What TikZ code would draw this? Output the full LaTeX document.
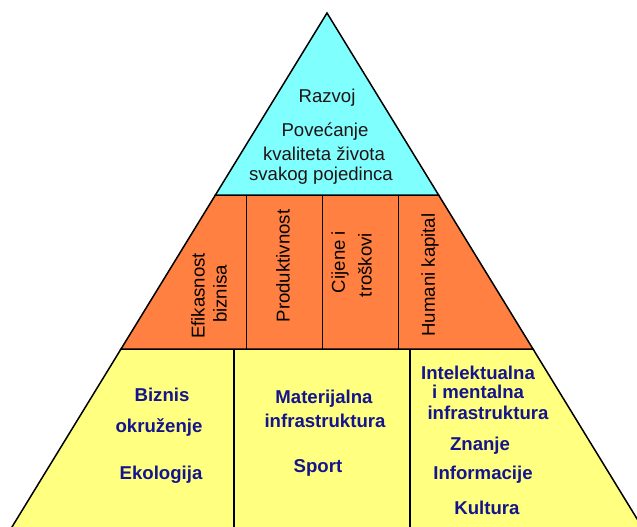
\documentclass[tikz,border=0pt]{standalone}
\usepackage{fontspec}
\setmainfont{Liberation Sans}
\definecolor{cyanf}{HTML}{80FFFF}
\definecolor{orangef}{HTML}{FF8040}
\definecolor{yellowf}{HTML}{FFFF80}
\definecolor{navytxt}{HTML}{14148C}
\definecolor{darktxt}{HTML}{1E1414}
\begin{document}
\begin{tikzpicture}[x=1pt,y=-1pt,
  band/.style={draw=black,line width=1.5pt,line join=miter},
  divider/.style={draw=black,line width=1.5pt},
  toptxt/.style={font=\fontsize{18.6}{22}\selectfont,text=darktxt,anchor=base,inner sep=0pt},
  midtxt/.style={font=\fontsize{18.6}{22}\selectfont,text=black,rotate=90,anchor=center,inner sep=0pt},
  bottxt/.style={font=\fontsize{18.6}{22}\selectfont\bfseries,text=navytxt,anchor=base,inner sep=0pt}]
\useasboundingbox (0,0) rectangle (637,527);
% geometry
\coordinate (apex) at (327,13);
\coordinate (tl) at (215.4,195);
\coordinate (tr) at (438.6,195);
\coordinate (ml) at (121,349);
\coordinate (mr) at (533,349);
\coordinate (bl) at (4,540);
\coordinate (br) at (650,540);
% bands
\filldraw[band,fill=yellowf] (ml) -- (mr) -- (br) -- (bl) -- cycle;
\filldraw[band,fill=orangef] (tl) -- (tr) -- (mr) -- (ml) -- cycle;
\filldraw[band,fill=cyanf] (apex) -- (tr) -- (tl) -- cycle;
% dividers orange
\coordinate (o1t) at (246.7,195); \coordinate (o1b) at (246.7,349);
\coordinate (o2t) at (322.3,195); \coordinate (o2b) at (322.3,349);
\coordinate (o3t) at (398.3,195); \coordinate (o3b) at (398.3,349);
\draw[divider] (o1t) -- (o1b);
\draw[divider] (o2t) -- (o2b);
\draw[divider] (o3t) -- (o3b);
% dividers yellow
\coordinate (y1t) at (234,349); \coordinate (y1b) at (234,540);
\coordinate (y2t) at (410,349); \coordinate (y2b) at (410,540);
\draw[divider] (y1t) -- (y1b);
\draw[divider] (y2t) -- (y2b);
% top texts
\node[toptxt] (t1) at (327,102) {Razvoj};
\node[toptxt] (t2) at (325,136) {Povećanje};
\node[toptxt] (t3) at (324,160) {kvaliteta života};
\node[toptxt] (t4) at (321,180) {svakog pojedinca};
% orange texts
\node[midtxt] (m1) at (198,296) {Efikasnost};
\node[midtxt] (m2) at (220,294) {biznisa};
\node[midtxt] (m3) at (283,266) {Produktivnost};
\node[midtxt] (m4) at (340,262) {Cijene i};
\node[midtxt] (m5) at (365,265) {troškovi};
\node[midtxt] (m6) at (430,275) {Humani kapital};
% yellow texts
\node[bottxt] (b1) at (162,401) {Biznis};
\node[bottxt] (b2) at (159,432) {okruženje};
\node[bottxt] (b3) at (161,479) {Ekologija};
\node[bottxt] (b4) at (324,403) {Materijalna};
\node[bottxt] (b5) at (325,427) {infrastruktura};
\node[bottxt] (b6) at (318,472) {Sport};
\node[bottxt] (b7) at (478,379) {Intelektualna};
\node[bottxt] (b8) at (478,398) {i mentalna};
\node[bottxt] (b9) at (488,419) {infrastruktura};
\node[bottxt] (b10) at (480,450) {Znanje};
\node[bottxt] (b11) at (483,479) {Informacije};
\node[bottxt] (b12) at (487,514) {Kultura};
\end{tikzpicture}
\end{document}
